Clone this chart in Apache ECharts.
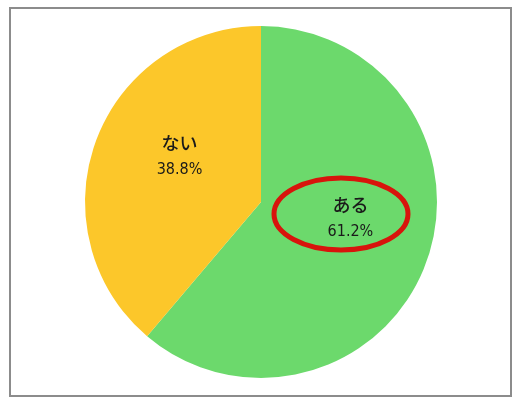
<!DOCTYPE html>
<html>
<head>
<meta charset="utf-8">
<script src="https://cdn.jsdelivr.net/npm/echarts@6/dist/echarts.min.js"></script>
<style>
  html, body { margin: 0; padding: 0; background: #fff; }
  #main { width: 526px; height: 405px; }
</style>
</head>
<body>
<div id="main"></div>
<script>
// answer categories and shares (%)
var categories = ['ある', 'ない'];
var shares = [61.2, 38.8];
var sliceColors = ['#6CD96C', '#FCC72A'];

var chart = echarts.init(document.getElementById('main'), null, { renderer: 'canvas' });

// nudge labels a bit off the default mid-radius spot
var labelOffsets = [[4, -15], [4, -14]];

var pieData = categories.map(function (name, i) {
    return {
        name: name,
        value: shares[i],
        itemStyle: { color: sliceColors[i] },
        label: { offset: labelOffsets[i] }
    };
});

var option = {
    animation: false,
    backgroundColor: '#fff',
    series: [{
        type: 'pie',
        center: [261, 202],
        radius: 176,
        startAngle: 90,
        clockwise: true,
        silent: true,
        data: pieData,
        itemStyle: { borderWidth: 0 },
        label: {
            show: true,
            position: 'inside',
            formatter: function (p) {
                return '{n|' + p.name + '}\n{v|' + p.value.toFixed(1) + '%}';
            },
            rich: {
                n: {
                    fontFamily: 'Noto Sans CJK JP',
                    fontSize: 18,
                    fontWeight: 500,
                    color: '#1a1a1a',
                    lineHeight: 26
                },
                v: {
                    fontFamily: '"DejaVu Sans Condensed", "Noto Sans CJK JP"',
                    fontSize: 16,
                    color: '#1a1a1a',
                    lineHeight: 26
                }
            }
        },
        labelLine: { show: false }
    }],
    graphic: [
        {
            // outer frame
            type: 'rect',
            shape: { x: 10, y: 8, width: 501, height: 388 },
            style: { fill: 'none', stroke: '#8c8c8c', lineWidth: 2 },
            z: 10
        },
        {
            // red highlight around the "ある" label
            type: 'ellipse',
            shape: { cx: 341, cy: 214, rx: 67, ry: 36 },
            style: { fill: 'none', stroke: '#d8140c', lineWidth: 5 },
            z: 10
        }
    ]
};

chart.setOption(option);
</script>
</body>
</html>
